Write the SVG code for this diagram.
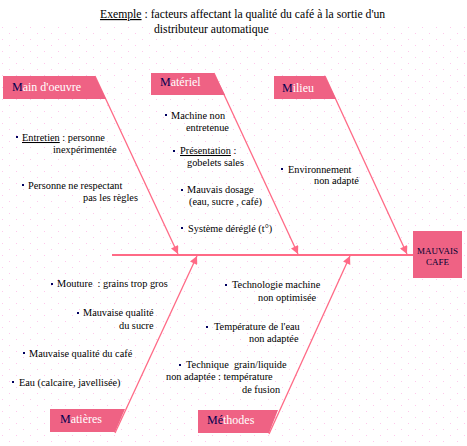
<svg xmlns="http://www.w3.org/2000/svg" width="467" height="446" viewBox="0 0 467 446">
<style>
.t{font-family:"Liberation Serif","Times New Roman",serif;font-size:10.3px;fill:#000;white-space:pre}
.h{font-family:"Liberation Serif","Times New Roman",serif;font-size:12px;fill:#fff}
.hm{fill:#000050}
.box{fill:#EF6284}
.bone{stroke:#FF6A86;stroke-width:1.3;fill:none}
.bul{fill:#000060}
</style>
<defs>
<pattern id="dots" x="0" y="0" width="14" height="12" patternUnits="userSpaceOnUse">
<rect x="2" y="3" width="1" height="1" fill="#FFC8EC"/>
<rect x="9" y="9" width="1" height="1" fill="#FFC8EC"/>
</pattern>
<marker id="arr" viewBox="0 0 10 10" refX="10" refY="5" markerWidth="9" markerHeight="8" markerUnits="userSpaceOnUse" orient="auto">
<path d="M0,0 L10,5 L0,10 z" fill="#FF6A86"/>
</marker>
</defs>
<rect width="467" height="446" fill="#fff"/>
<rect x="0" y="22" width="467" height="424" fill="url(#dots)"/>

<g id="title">
<text class="t" style="font-size:11.7px" x="100" y="18"><tspan text-decoration="underline">Exemple</tspan> : facteurs affectant la qualité du café à la sortie d'un</text>
<text class="t" style="font-size:11.7px" x="154" y="33">distributeur automatique</text>
</g>

<g id="connectors">
<line x1="112" y1="255" x2="413" y2="255" stroke="#FF6A86" stroke-width="2"/>
<line class="bone" x1="95" y1="76" x2="178" y2="254" marker-end="url(#arr)"/>
<line class="bone" x1="214" y1="73" x2="298" y2="254" marker-end="url(#arr)"/>
<line class="bone" x1="325" y1="76" x2="407" y2="254" marker-end="url(#arr)"/>
<line class="bone" x1="115" y1="433" x2="197" y2="256" marker-end="url(#arr)"/>
<line class="bone" x1="269" y1="434" x2="350" y2="256" marker-end="url(#arr)"/>
</g>

<g id="main-oeuvre">
<polygon class="box" points="3,76 95,76 106,99 3,99"/>
<text class="h" x="12" y="91"><tspan class="hm">M</tspan>ain d'oeuvre</text>
<rect class="bul" x="16" y="136" width="2" height="2"/>
<text class="t" x="22" y="141"><tspan text-decoration="underline">Entretien</tspan> : personne</text>
<text class="t" x="53" y="153">inexpérimentée</text>
<rect class="bul" x="22" y="184" width="2" height="2"/>
<text class="t" x="28" y="189">Personne ne respectant</text>
<text class="t" x="83" y="201">pas les règles</text>
</g>

<g id="materiel">
<polygon class="box" points="151,73 214,73 225,95 151,95"/>
<text class="h" x="160" y="86"><tspan class="hm">M</tspan>atériel</text>
<rect class="bul" x="165" y="114" width="2" height="2"/>
<text class="t" x="171" y="119">Machine non</text>
<text class="t" x="186" y="131">entretenue</text>
<rect class="bul" x="173" y="150" width="2" height="2"/>
<text class="t" x="180" y="154"><tspan text-decoration="underline">Présentation</tspan> :</text>
<text class="t" x="187" y="166">gobelets sales</text>
<rect class="bul" x="181" y="189" width="2" height="2"/>
<text class="t" x="187" y="193">Mauvais dosage</text>
<text class="t" x="189" y="205">(eau, sucre , café)</text>
<rect class="bul" x="181" y="227" width="2" height="2"/>
<text class="t" x="188" y="232">Système déréglé (t°)</text>
</g>

<g id="milieu">
<polygon class="box" points="274,76 325,76 336,99 274,99"/>
<text class="h" x="282" y="92"><tspan class="hm">M</tspan>ilieu</text>
<rect class="bul" x="281" y="168" width="2" height="2"/>
<text class="t" x="288" y="173">Environnement</text>
<text class="t" x="314" y="184">non adapté</text>
</g>

<g id="matieres">
<polygon class="box" points="50,409 125,409 115,432 50,432"/>
<text class="h" x="60" y="423"><tspan class="hm">M</tspan>atières</text>
<rect class="bul" x="51" y="283" width="2" height="2"/>
<text class="t" x="57" y="287">Mouture  : grains trop gros</text>
<rect class="bul" x="77" y="312" width="2" height="2"/>
<text class="t" x="83" y="316">Mauvaise qualité</text>
<text class="t" x="119" y="329">du sucre</text>
<rect class="bul" x="23" y="352" width="2" height="2"/>
<text class="t" x="29" y="357">Mauvaise qualité du café</text>
<rect class="bul" x="12" y="381" width="2" height="2"/>
<text class="t" x="19" y="386">Eau (calcaire, javellisée)</text>
</g>

<g id="methodes">
<polygon class="box" points="198,410 278,410 269,433 198,433"/>
<text class="h" x="207" y="424"><tspan class="hm">Mé</tspan>thodes</text>
<rect class="bul" x="225" y="284" width="2" height="2"/>
<text class="t" x="232" y="288">Technologie machine</text>
<text class="t" x="258" y="301">non optimisée</text>
<rect class="bul" x="206" y="326" width="2" height="2"/>
<text class="t" x="214" y="330">Température de l'eau</text>
<text class="t" x="249" y="342">non adaptée</text>
<rect class="bul" x="179" y="364" width="2" height="2"/>
<text class="t" x="186" y="368">Technique  grain/liquide</text>
<text class="t" x="166" y="380">non adaptée : température</text>
<text class="t" x="242" y="393">de fusion</text>
</g>

<g id="effet">
<rect class="box" x="413" y="231" width="49" height="47"/>
<text class="t" style="font-size:9px;fill:#000030" x="437.5" y="254" text-anchor="middle">MAUVAIS</text>
<text class="t" style="font-size:9px;fill:#000030" x="437.5" y="265" text-anchor="middle">CAFE</text>
</g>
</svg>
